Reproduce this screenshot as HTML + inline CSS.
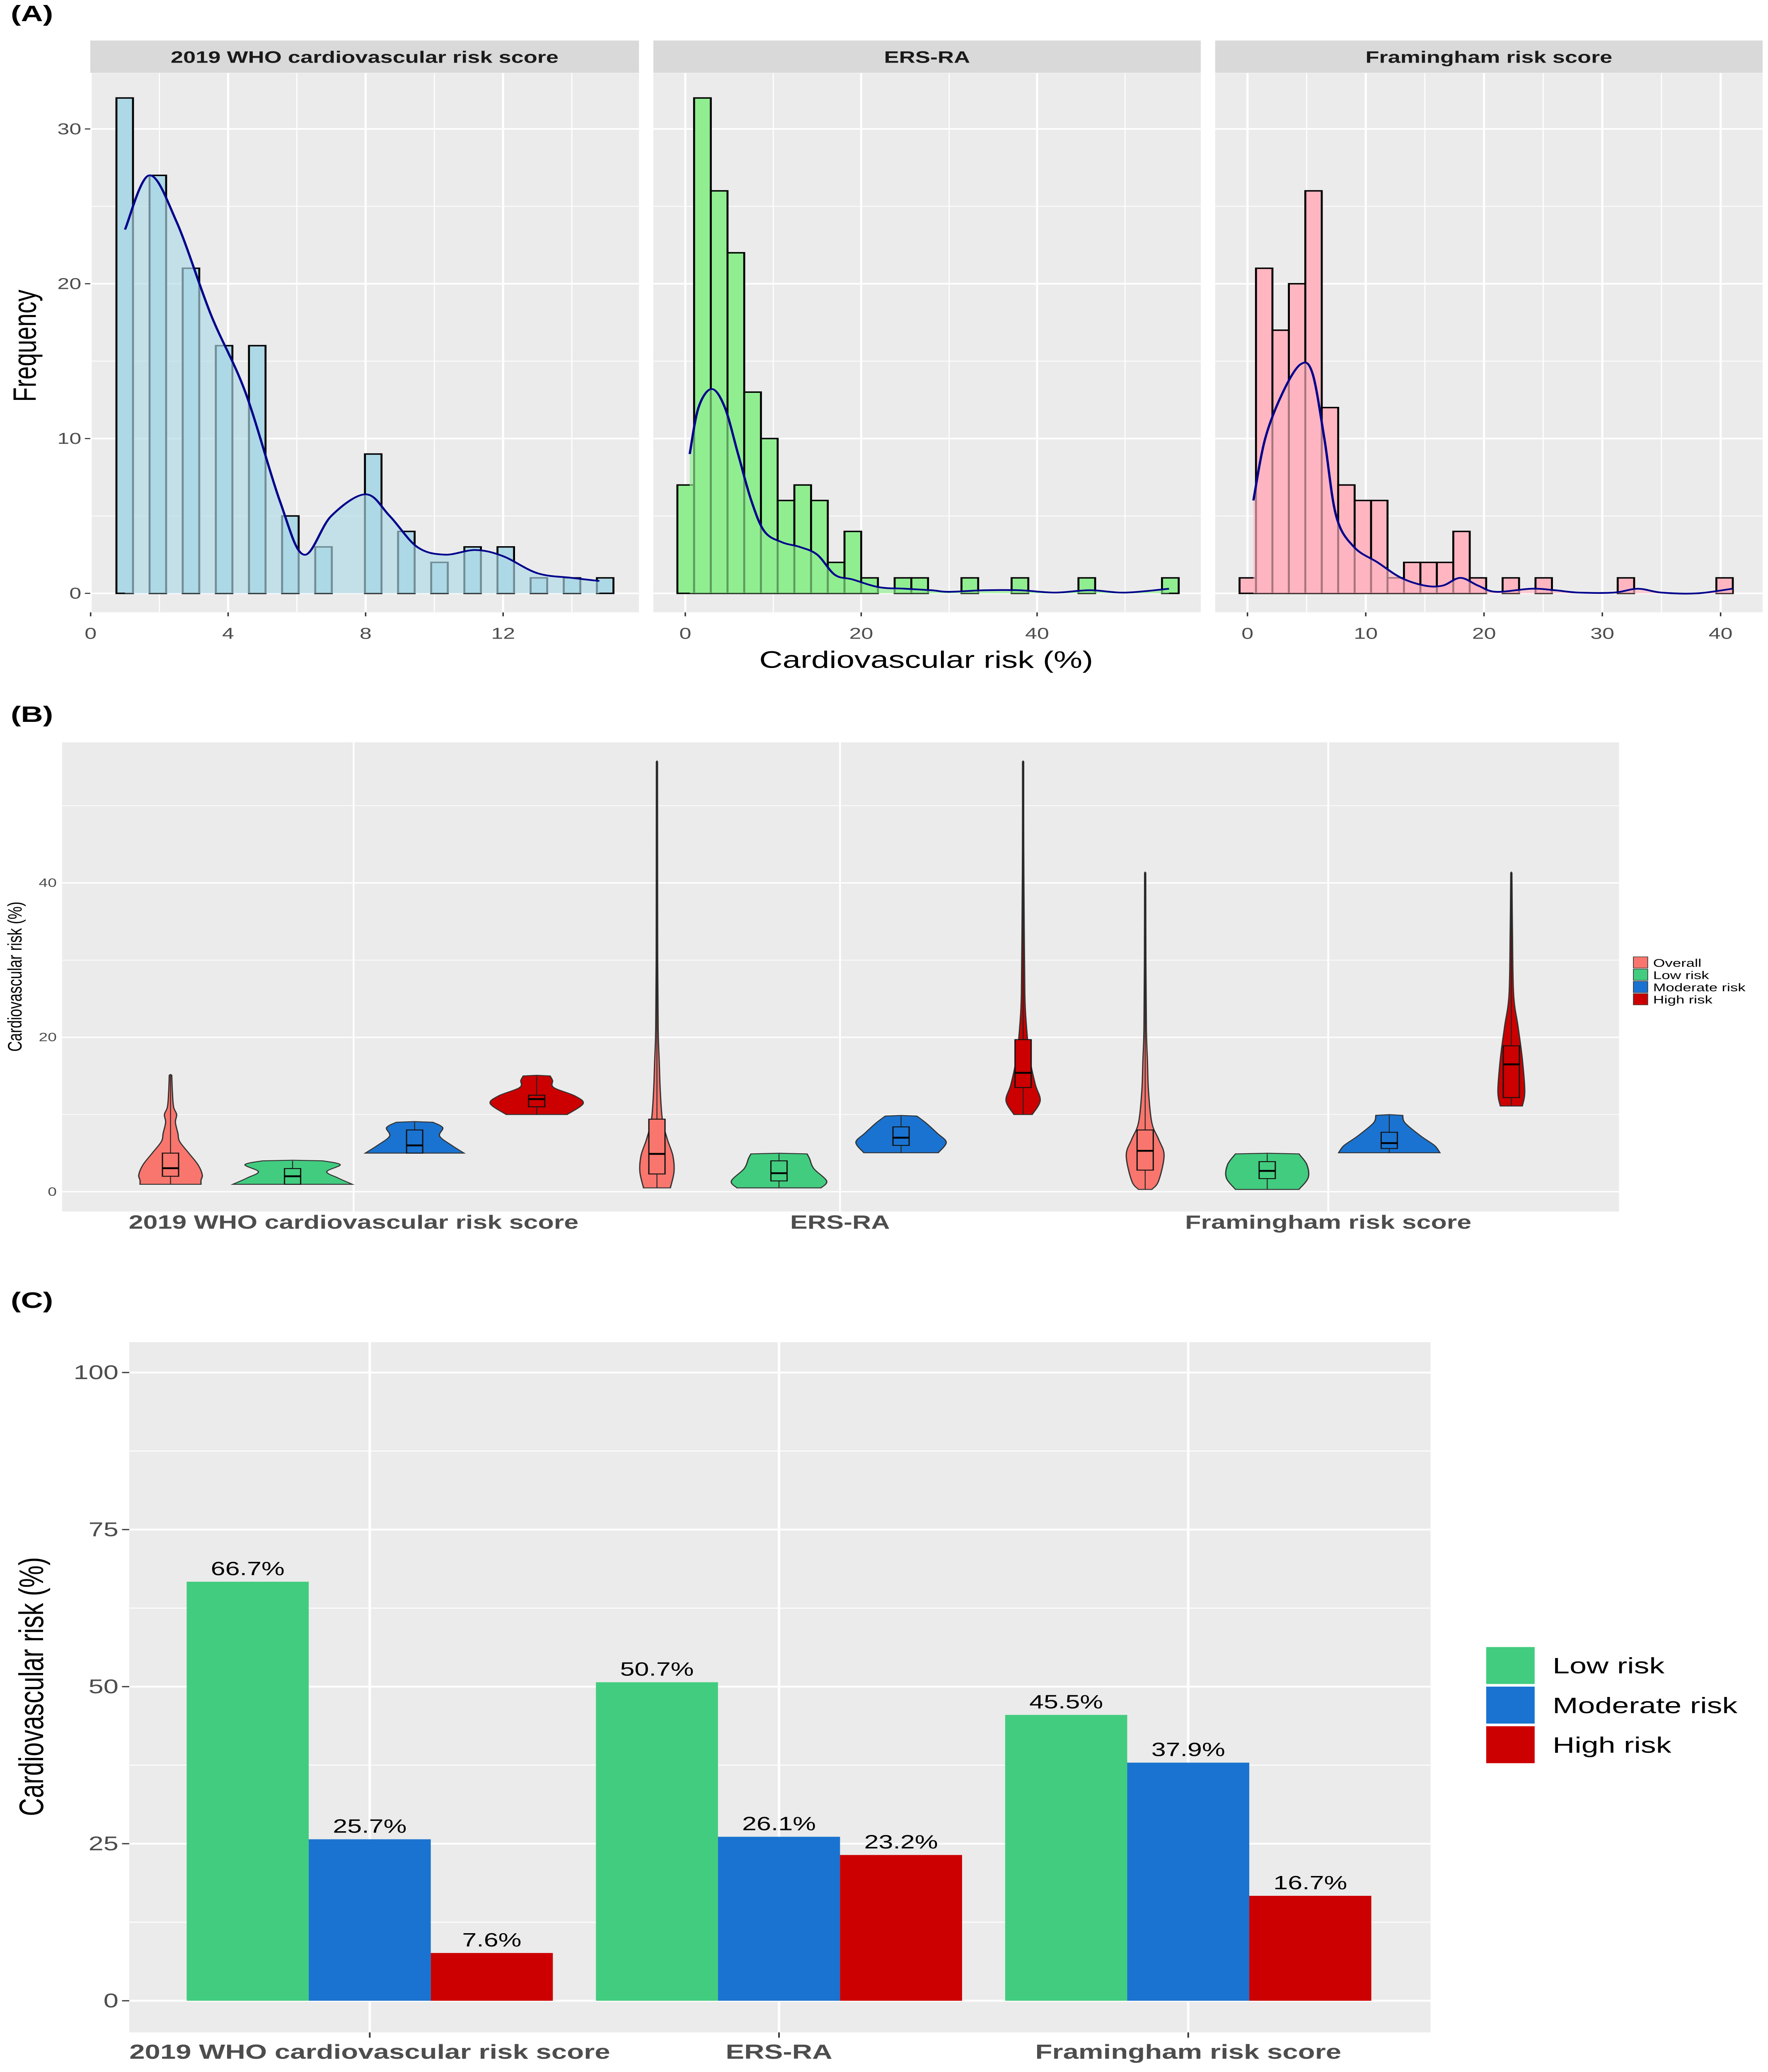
<!DOCTYPE html>
<html><head><meta charset="utf-8">
<style>
html,body{margin:0;padding:0;background:#fff;width:100%;height:100%;overflow:hidden;}
svg{display:block;position:fixed;left:0;top:0;width:100vw;height:100vh;font-family:"Liberation Sans",Arial,sans-serif;}
</style></head>
<body>
<svg id="chart" viewBox="0 0 985 1570" preserveAspectRatio="none">
<rect x="0" y="0" width="985" height="1570" fill="#fff"/>
<text x="6" y="16" font-size="17" font-weight="bold">(A)</text>
<text x="6" y="547" font-size="17" font-weight="bold">(B)</text>
<text x="6" y="991" font-size="17" font-weight="bold">(C)</text>
</svg>
<script>
// ---------- Panel A data ----------
const histTitles = ["2019 WHO cardiovascular risk score", "ERS-RA", "Framingham risk score"];
const whoBinStart = 0.75, whoBinWidth = 0.482;
const whoCounts = [32,0,27,0,21,0,16,0,16,0,5,0,3,0,0,9,0,4,0,2,0,3,0,3,0,1,0,1,0,1];
const ersBinStart = -0.9, ersBinWidth = 1.9;
const ersCounts = [7,32,26,22,13,10,6,7,6,2,4,1,0,1,1,0,0,1,0,0,1,0,0,0,1,0,0,0,0,1];
const framBinStart = -0.67, framBinWidth = 1.39;
const framCounts = [1,21,17,20,26,12,7,6,6,1,2,2,2,4,1,0,1,0,1,0,0,0,0,1,0,0,0,0,0,1];
const whoDensX = [1,1.7,2.5,3.5,4.5,5.5,6.2,7,8,8.7,9.5,10.3,11.2,12,13,14,14.8];
const whoDensY = [23.5,27,24,18,13,6,2.5,5,6.4,5,3,2.5,2.8,2.4,1.3,1,0.8];
const ersDensX = [0.5,1.5,3,4.5,6,7.5,9,11,13,15,17,19,22,25,28,30,34,38,42,46,50,55];
const ersDensY = [9,12,13.2,12,9,6,4,3.3,3,2.5,1.2,0.9,0.4,0.3,0.2,0.1,0.2,0.2,0.05,0.2,0.05,0.3];
const framDensX = [0.5,1.5,3,4.5,5.5,6.5,7.5,9,11,13,15,16.5,18,19.5,21,24,26,28,31,33,35,38,41];
const framDensY = [6,10,13,14.8,14.2,10,5,3,2,1,0.5,0.5,1,0.5,0.1,0.3,0.2,0.05,0.05,0.3,0.05,0,0.3];
const freqTicks = [0,10,20,30];
const whoTicks = [0,4,8,12];
const ersTicks = [0,20,40];
const framTicks = [0,10,20,30,40];

// ---------- Panel B data ----------
const violinCats = ["2019 WHO cardiovascular risk score", "ERS-RA", "Framingham risk score"];
const violinGroups = ["Overall","Low risk","Moderate risk","High risk"];
const violinTicks = [0,20,40];
const whoOverallProf = [[0.96,0.5],[1.5,0.5],[2.2,0.52],[3.5,0.45],[5,0.3],[6.5,0.15],[7.6,0.12],[9,0.08],[10,0.1],[11,0.05],[13,0.03],[15.1,0.02]];
const whoLowProf = [[0.96,0.98],[1.8,0.74],[2.6,0.56],[3.5,0.78],[4.0,0.5]];
const whoModProf = [[5.0,0.81],[6.0,0.61],[7.2,0.41],[8.3,0.46],[9.0,0.3]];
const whoHighProf = [[10.0,0.5],[11.4,0.76],[12.4,0.63],[13.5,0.28],[14.4,0.26],[15.0,0.22]];
const ersOverallProf = [[0.5,0.22],[2.6,0.28],[4.7,0.26],[6.8,0.17],[9.3,0.09],[13,0.055],[17,0.037],[21,0.02],[30,0.012],[45,0.01],[55.7,0.009]];
const ersLowProf = [[0.5,0.69],[1.4,0.78],[3.0,0.57],[4.3,0.5],[4.9,0.46]];
const ersModProf = [[5.05,0.61],[6.4,0.74],[7.6,0.59],[8.9,0.41],[9.8,0.26]];
const ersHighProf = [[10,0.15],[11.8,0.28],[13.9,0.2],[17.2,0.11],[21.4,0.055],[25.6,0.028],[34,0.018],[45,0.01],[55.7,0.009]];
const framOverallProf = [[0.3,0.11],[1.4,0.22],[4.7,0.31],[6.8,0.22],[8.9,0.11],[13,0.055],[17,0.037],[21,0.02],[30,0.012],[41.3,0.009]];
const framLowProf = [[0.3,0.52],[1.8,0.67],[3.5,0.65],[4.9,0.52]];
const framModProf = [[5.05,0.83],[6.0,0.74],[7.2,0.52],[8.9,0.26],[9.9,0.22]];
const framHighProf = [[11.1,0.18],[13,0.22],[17.2,0.18],[21.4,0.11],[25.6,0.037],[34,0.018],[41.3,0.009]];
const whoBoxes = [[2.0,3.05,5.0],[0.96,2.0,3.0],[5.0,6.0,8.0],[11.0,12.0,12.5]];
const ersBoxes = [[2.3,4.9,9.4],[1.4,2.4,4.0],[6.0,7.0,8.4],[13.5,15.4,19.7]];
const framBoxes = [[2.8,5.3,8.0],[1.7,2.7,3.9],[5.6,6.3,7.7],[12.2,16.5,18.9]];

// ---------- Panel C data ----------
const barCats = ["2019 WHO cardiovascular risk score", "ERS-RA", "Framingham risk score"];
const lowVals = [66.7, 50.7, 45.5];
const modVals = [25.7, 26.1, 37.9];
const highVals = [7.6, 23.2, 16.7];
const barTicks = [0,25,50,75,100];
const legendLabels = ["Low risk","Moderate risk","High risk"];

const svg = document.getElementById('chart');
const NS = svg.namespaceURI;
function mk(tag, attrs, parent){
  const e = document.createElementNS(NS, tag);
  for (const k in attrs) e.setAttribute(k, attrs[k]);
  (parent || svg).appendChild(e);
  return e;
}
function txt(e, s){ e.textContent = s; return e; }
function catmull(pts){
  let d = '';
  for (let i=0;i<pts.length-1;i++){
    const p0 = pts[Math.max(0,i-1)], p1 = pts[i], p2 = pts[i+1], p3 = pts[Math.min(pts.length-1,i+2)];
    const c1x = p1[0]+(p2[0]-p0[0])/6, c1y = p1[1]+(p2[1]-p0[1])/6;
    const c2x = p2[0]-(p3[0]-p1[0])/6, c2y = p2[1]-(p3[1]-p1[1])/6;
    d += ` C${c1x.toFixed(2)},${c1y.toFixed(2)} ${c2x.toFixed(2)},${c2y.toFixed(2)} ${p2[0].toFixed(2)},${p2[1].toFixed(2)}`;
  }
  return d;
}
const GREEN = '#42cc7f', BLUE = '#1a73d0', RED = '#cc0000', SALMON = '#f8766d';

// ================= PANEL A =================
const aTop = 55.4, aBot = 464, aY0 = 449.6, aPerUnit = 11.73;
const ay = v => aY0 - v*aPerUnit;
const panelsA = [
  {x0:50.3, x1:356, zero:50.5, per:19.15, start:whoBinStart, w:whoBinWidth, counts:whoCounts, dx:whoDensX, dy:whoDensY, ticks:whoTicks, fill:'#add8e6', minor:2},
  {x0:364, x1:669, zero:381.8, per:4.9, start:ersBinStart, w:ersBinWidth, counts:ersCounts, dx:ersDensX, dy:ersDensY, ticks:ersTicks, fill:'#90ee90', minor:10},
  {x0:677, x1:982, zero:695, per:6.59, start:framBinStart, w:framBinWidth, counts:framCounts, dx:framDensX, dy:framDensY, ticks:framTicks, fill:'#ffb6c1', minor:5}
];
panelsA.forEach((p, pi) => {
  const g = mk('g', {});
  
  
  const ax = v => p.zero + v*p.per;
  const bg = mk('rect', {x:p.x0, y:aTop, width:p.x1-p.x0, height:aBot-aTop, fill:'#ebebeb'}, g);
  
  
  const strip = mk('rect', {x:p.x0, y:30.7, width:p.x1-p.x0, height:24.5, fill:'#d9d9d9'}, g);
  
  
  const st = txt(mk('text', {x:(p.x0+p.x1)/2, y:47.5, 'font-size':12.5, 'font-weight':'bold', fill:'#1a1a1a', 'text-anchor':'middle'}, g), histTitles[pi]);
  
  
  [5,15,25].forEach(v => {
    const l = mk('line', {x1:p.x0, x2:p.x1, y1:ay(v), y2:ay(v), stroke:'#fff', 'stroke-width':0.6}, g);
    
    
  });
  freqTicks.forEach(v => {
    const l = mk('line', {x1:p.x0, x2:p.x1, y1:ay(v), y2:ay(v), stroke:'#fff', 'stroke-width':1.2}, g);
    
    
  });
  for (let v = p.ticks[0] + p.minor; v < (p.x1 - p.zero)/p.per; v += 2*p.minor){
    const l = mk('line', {x1:ax(v), x2:ax(v), y1:aTop, y2:aBot, stroke:'#fff', 'stroke-width':0.6}, g);
    
    
  }
  for (let v = p.ticks[0] - 2*p.minor; v < (p.x1 - p.zero)/p.per; v += 2*p.minor){
    if (ax(v) < p.x0) continue;
    const l = mk('line', {x1:ax(v), x2:ax(v), y1:aTop, y2:aBot, stroke:'#fff', 'stroke-width':1.2}, g);
    
    
  }
  p.counts.forEach((c, i) => {
    const xa = ax(p.start + i*p.w), xb = ax(p.start + (i+1)*p.w);
    const r = mk('rect', {x:xa, y:ay(c), width:xb-xa, height:ay(0)-ay(c), fill:p.fill, stroke:'#000', 'stroke-width':1.1}, g);
    
    
  });
  const pts = p.dx.map((x, i) => [ax(x), ay(p.dy[i])]);
  const dline = 'M' + pts[0][0] + ',' + pts[0][1] + catmull(pts);
  const area = mk('path', {d: dline + ` L${pts[pts.length-1][0]},${ay(0)} L${pts[0][0]},${ay(0)} Z`, fill:p.fill, 'fill-opacity':0.65, stroke:'none'}, g);
  
  
  const dl = mk('path', {d:dline, fill:'none', stroke:'#00008b', 'stroke-width':1.3}, g);
  
  
  p.ticks.forEach(v => {
    const t = mk('line', {x1:ax(v), x2:ax(v), y1:aBot, y2:aBot+3, stroke:'#333', 'stroke-width':0.8}, g);
    
    
    const tl = txt(mk('text', {x:ax(v), y:aBot+20, 'font-size':12, fill:'#4d4d4d', 'text-anchor':'middle'}, g), String(v));
    
    
  });
  if (pi === 0){
    freqTicks.forEach(v => {
      const t = mk('line', {x1:p.x0-3, x2:p.x0, y1:ay(v), y2:ay(v), stroke:'#333', 'stroke-width':0.8}, g);
      
      
      const tl = txt(mk('text', {x:p.x0-5, y:ay(v)+4, 'font-size':12, fill:'#4d4d4d', 'text-anchor':'end'}, g), String(v));
      
      
    });
  }
});
const axt = txt(mk('text', {x:516, y:506, 'font-size':18, fill:'#000', 'text-anchor':'middle'}), 'Cardiovascular risk (%)');


const ayt = txt(mk('text', {x:0, y:0, 'font-size':18, fill:'#000', 'text-anchor':'middle', transform:'translate(20,262) rotate(-90)'}), 'Frequency');



// ================= PANEL B =================
const bL = 34.6, bR = 902, bT = 562.5, bB = 918;
const by = v => 903 - v*5.85;
const bCatX = [197, 468, 740];
const bOffsets = [-102, -34, 34, 102];
const bHalfMax = 34;
const bColors = [SALMON, GREEN, BLUE, RED];
const gB = mk('g', {});


const bbg = mk('rect', {x:bL, y:bT, width:bR-bL, height:bB-bT, fill:'#ebebeb'}, gB);


[10,30,50].forEach(v => {
  const l = mk('line', {x1:bL, x2:bR, y1:by(v), y2:by(v), stroke:'#fff', 'stroke-width':0.5}, gB);
  
  
});
violinTicks.forEach(v => {
  const l = mk('line', {x1:bL, x2:bR, y1:by(v), y2:by(v), stroke:'#fff', 'stroke-width':1}, gB);
  
  
  const tl = txt(mk('text', {x:bL-3, y:by(v)+3, 'font-size':9, fill:'#4d4d4d', 'text-anchor':'end'}, gB), String(v));
  
  
});
bCatX.forEach((cx, i) => {
  const l = mk('line', {x1:cx, x2:cx, y1:bT, y2:bB, stroke:'#fff', 'stroke-width':1}, gB);
  
  
  const tl = txt(mk('text', {x:cx, y:931, 'font-size':14.5, 'font-weight':'bold', fill:'#4d4d4d', 'text-anchor':'middle'}, gB), violinCats[i]);
  
  
});
const allProfiles = [
  [whoOverallProf, whoLowProf, whoModProf, whoHighProf],
  [ersOverallProf, ersLowProf, ersModProf, ersHighProf],
  [framOverallProf, framLowProf, framModProf, framHighProf]
];
const allBoxes = [whoBoxes, ersBoxes, framBoxes];
allProfiles.forEach((profs, ci) => {
  profs.forEach((prof, gi) => {
    const cx = bCatX[ci] + bOffsets[gi];
    const right = prof.map(([v, w]) => [cx + w*bHalfMax, by(v)]);
    const left = prof.slice().reverse().map(([v, w]) => [cx - w*bHalfMax, by(v)]);
    const top = prof[prof.length-1];
    const d = `M${right[0][0]},${right[0][1]}` + catmull(right) + ` L${cx},${by(top[0])-0.5} L${left[0][0]},${left[0][1]}` + catmull(left) + ' Z';
    const vp = mk('path', {d:d, fill:bColors[gi], stroke:'#333', 'stroke-width':0.7}, gB);
    
    
    const bx = allBoxes[ci][gi];
    const wl = mk('line', {x1:cx, x2:cx, y1:by(prof[0][0]), y2:by(top[0]), stroke:'#222', 'stroke-width':0.5}, gB);
    
    
    const br = mk('rect', {x:cx-4.5, y:by(bx[2]), width:9, height:by(bx[0])-by(bx[2]), fill:bColors[gi], stroke:'#111', 'stroke-width':0.7}, gB);
    
    
    const md = mk('line', {x1:cx-4.5, x2:cx+4.5, y1:by(bx[1]), y2:by(bx[1]), stroke:'#000', 'stroke-width':1.4}, gB);
    
    
  });
});
const byt = txt(mk('text', {x:0, y:0, 'font-size':11, fill:'#000', 'text-anchor':'middle', transform:'translate(12,740) rotate(-90)'}), 'Cardiovascular risk (%)');


violinGroups.forEach((lab, i) => {
  const yy = 725 + i*9.3;
  const k = mk('rect', {x:910, y:yy, width:8, height:8.5, fill:bColors[i], stroke:'#333', 'stroke-width':0.4});
  
  
  const t = txt(mk('text', {x:921, y:yy+7.5, 'font-size':8.5, fill:'#000'}), lab);
  
  
});

// ================= PANEL C =================
const cL = 72, cR = 797, cT = 1017, cB = 1540;
const cy = v => 1516 - v*4.76;
const cCatX = [206, 434, 662];
const barW = 68;
const gC = mk('g', {});


const cbg = mk('rect', {x:cL, y:cT, width:cR-cL, height:cB-cT, fill:'#ebebeb'}, gC);


[12.5,37.5,62.5,87.5].forEach(v => {
  const l = mk('line', {x1:cL, x2:cR, y1:cy(v), y2:cy(v), stroke:'#fff', 'stroke-width':0.7}, gC);
  
  
});
barTicks.forEach(v => {
  const l = mk('line', {x1:cL, x2:cR, y1:cy(v), y2:cy(v), stroke:'#fff', 'stroke-width':1.4}, gC);
  
  
  const t = mk('line', {x1:cL-4, x2:cL, y1:cy(v), y2:cy(v), stroke:'#333', 'stroke-width':0.9}, gC);
  
  
  const tl = txt(mk('text', {x:cL-6, y:cy(v)+5, 'font-size':15, fill:'#4d4d4d', 'text-anchor':'end'}, gC), String(v));
  
  
});
cCatX.forEach((cx, i) => {
  const l = mk('line', {x1:cx, x2:cx, y1:cT, y2:cB, stroke:'#fff', 'stroke-width':1.4}, gC);
  
  
  const t = mk('line', {x1:cx, x2:cx, y1:cB, y2:cB+4, stroke:'#333', 'stroke-width':0.9}, gC);
  
  
  const tl = txt(mk('text', {x:cx, y:1560, 'font-size':15.5, 'font-weight':'bold', fill:'#4d4d4d', 'text-anchor':'middle'}, gC), barCats[i]);
  
  
});
const series = [lowVals, modVals, highVals];
const sColors = [GREEN, BLUE, RED];
const sNames = ['low', 'moderate', 'high'];
series.forEach((vals, si) => {
  vals.forEach((v, ci) => {
    const x = cCatX[ci] + (si - 1.5)*barW;
    const r = mk('rect', {x:x, y:cy(v), width:barW, height:cy(0)-cy(v), fill:sColors[si]}, gC);
    
    
    const t = txt(mk('text', {x:x+barW/2, y:cy(v)-5, 'font-size':14.5, fill:'#000', 'text-anchor':'middle'}, gC), v.toFixed(1) + '%');
    
    
  });
});
const cyt = txt(mk('text', {x:0, y:0, 'font-size':19, fill:'#000', 'text-anchor':'middle', transform:'translate(24,1278) rotate(-90)'}), 'Cardiovascular risk (%)');


legendLabels.forEach((lab, i) => {
  const yy = 1248 + i*30;
  const k = mk('rect', {x:828, y:yy, width:27, height:28, fill:sColors[i]});
  
  
  const t = txt(mk('text', {x:865, y:yy+20, 'font-size':17, fill:'#000'}), lab);
  
  
});
</script>
</body></html>
